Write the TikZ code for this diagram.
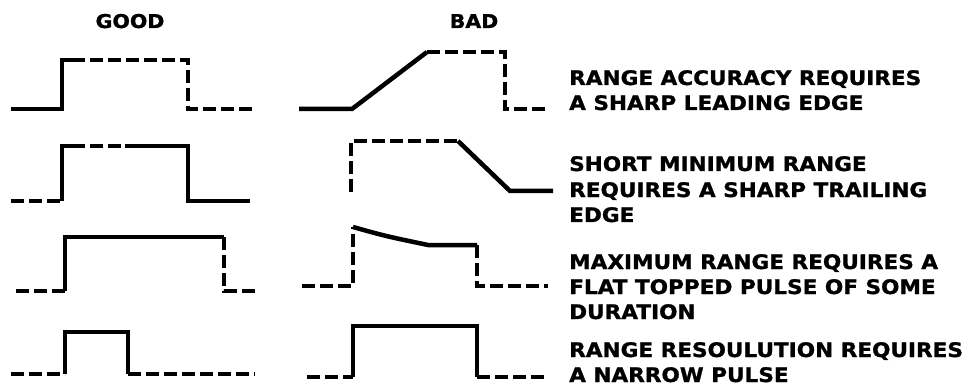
\documentclass[tikz,border=0pt]{standalone}
\usepackage{fontspec}
\newfontfamily\lblfont{DejaVu Sans}[FakeStretch=1.08,FakeBold=1.2]
\begin{document}
\begin{tikzpicture}[x=1pt,y=-1pt,
  wave/.style={line width=4.5pt,line join=miter},
  dwave/.style={wave,dash pattern=on 13pt off 5pt},
  lbl/.style={inner sep=0pt,anchor=base west,font=\lblfont\bfseries\fontsize{20}{20}\selectfont},
  head/.style={inner sep=0pt,anchor=base,font=\lblfont\bfseries\fontsize{19}{19}\selectfont}]
\useasboundingbox (0,0) rectangle (975,385);
% headers
\node[head] (good) at (130,28) {GOOD};
\node[head] (bad) at (474,28) {BAD};
% row 1 good
\draw[wave] (11,109) -- (62,109) -- (62,60) -- (72,60);
\draw[dwave] (72,60) -- (188,60) -- (188,109) -- (255,109);
% row 1 bad
\draw[wave] (299,109) -- (352,109) -- (427,52);
\draw[dwave] (427,52) -- (505,52) -- (505,109) -- (548,109);
% row 2 good
\draw[dwave] (11,201) -- (62,201);
\draw[wave] (62,201) -- (62,146) -- (72,146);
\draw[dwave] (72,146) -- (125,146);
\draw[wave] (125,146) -- (188,146) -- (188,201) -- (250,201);
% row 2 bad
\draw[dwave] (351,192) -- (351,141) -- (458,141);
\draw[wave] (458,141) -- (510,191) -- (553,191);
% row 3 good
\draw[dwave] (16,291) -- (65,291);
\draw[wave] (65,291) -- (65,237) -- (224,237);
\draw[dwave] (224,237) -- (224,291) -- (257,291);
% row 3 bad
\draw[dwave] (302,286) -- (353,286) -- (353,227);
\draw[wave] (353,227) .. controls (385,236) .. (428,245) -- (477,245);
\draw[dwave] (477,245) -- (477,286) -- (548,286);
% row 4 good
\draw[dwave] (11,374) -- (65,374);
\draw[wave] (65,374) -- (65,332) -- (128,332) -- (128,374);
\draw[dwave] (128,374) -- (255,374);
% row 4 bad
\draw[dwave] (307,377) -- (353,377);
\draw[wave] (353,377) -- (353,326) -- (477,326) -- (477,377);
\draw[dwave] (477,377) -- (547,377);
% labels
\node[lbl] (t1a) at (569,85) {RANGE ACCURACY REQUIRES};
\node[lbl] (t1b) at (569,110) {A SHARP LEADING EDGE};
\node[lbl] (t2a) at (569,171) {SHORT MINIMUM RANGE};
\node[lbl] (t2b) at (569,197) {REQUIRES A SHARP TRAILING};
\node[lbl] (t2c) at (569,222) {EDGE};
\node[lbl] (t3a) at (569,269) {MAXIMUM RANGE REQUIRES A};
\node[lbl] (t3b) at (569,294) {FLAT TOPPED PULSE OF SOME};
\node[lbl] (t3c) at (569,319) {DURATION};
\node[lbl] (t4a) at (569,357) {RANGE RESOULUTION REQUIRES};
\node[lbl] (t4b) at (569,382) {A NARROW PULSE};
\end{tikzpicture}
\end{document}
